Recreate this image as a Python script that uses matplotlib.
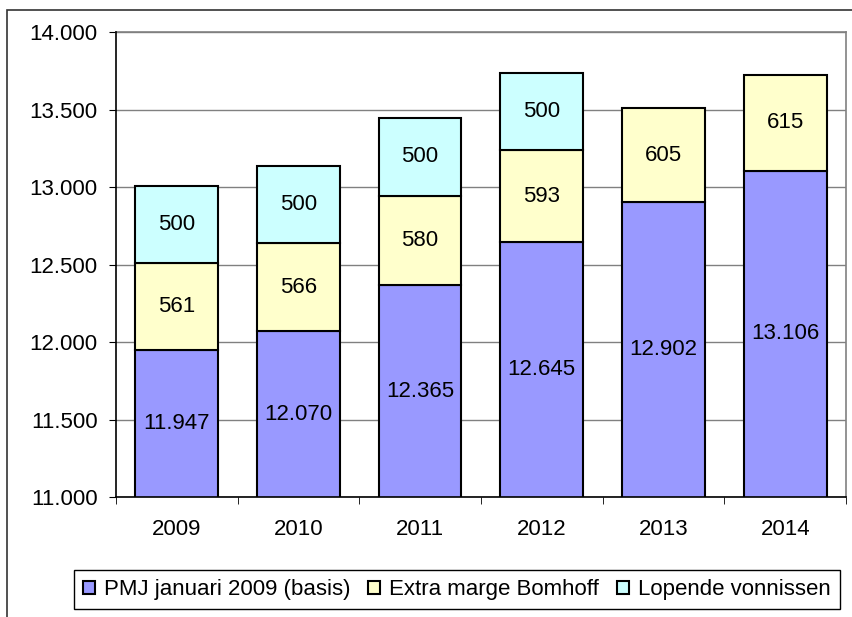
import matplotlib.pyplot as plt
from matplotlib.patches import Rectangle
from matplotlib.ticker import FuncFormatter
import numpy as np

plt.rcParams['font.family'] = ['Liberation Sans', 'DejaVu Sans']

years = ["2009", "2010", "2011", "2012", "2013", "2014"]
basis = [11947, 12070, 12365, 12645, 12902, 13106]
marge = [561, 566, 580, 593, 605, 615]
vonnissen = [500, 500, 500, 500, 0, 0]
labels = ["PMJ januari 2009 (basis)", "Extra marge Bomhoff", "Lopende vonnissen"]
colors = ["#9999FF", "#FFFFCC", "#CCFFFF"]

def nl(v, pos=None):
    return f"{int(v):,}".replace(",", ".")

fig = plt.figure(figsize=(8.52, 6.17), dpi=100)
ax = fig.add_axes([0.136, 0.1945, 0.857, 0.7535])

ymin, ymax = 11000, 14000
fs = 16
x = np.arange(len(years))
bottom = np.zeros(len(years))
for vals, lab, col in zip([basis, marge, vonnissen], labels, colors):
    vals = np.array(vals, dtype=float)
    mask = vals > 0
    ax.bar(x[mask], vals[mask], bottom=bottom[mask], width=0.68, color=col,
           edgecolor="black", linewidth=1.5, label=lab, zorder=3)
    for xi, b, v in zip(x, bottom, vals):
        if v <= 0:
            continue
        lo = max(b, ymin)
        ax.text(xi, (lo + b + v) / 2, nl(v), ha="center", va="center",
                fontsize=fs, zorder=4)
    bottom += vals

ax.set_ylim(ymin, ymax)
ax.set_xlim(-0.5, len(years) - 0.5)
ax.set_yticks(np.arange(ymin, ymax + 1, 500))
ax.yaxis.set_major_formatter(FuncFormatter(nl))
ax.yaxis.grid(True, color="#808080", linewidth=1, zorder=0)
ax.set_xticks(x)
ax.set_xticklabels(years)
ax.set_xticks(np.arange(-0.5, len(years)), minor=True)
ax.tick_params(axis="x", which="major", length=0, pad=16, labelsize=fs)
ax.tick_params(axis="x", which="minor", length=5, direction="out", color="black")
ax.tick_params(axis="y", length=5, direction="out", labelsize=fs, pad=8)
for s in ["left", "bottom"]:
    ax.spines[s].set_color("black")
    ax.spines[s].set_linewidth(1.2)
    ax.spines[s].set_zorder(5)
for s in ["top", "right"]:
    ax.spines[s].set_color("#808080")
    ax.spines[s].set_linewidth(1.2)

fig.legend(loc="center", bbox_to_anchor=(0.536, 0.044), ncol=3, fontsize=fs,
           frameon=True, fancybox=False, edgecolor="black", framealpha=1,
           handlelength=0.55, handleheight=0.55, handletextpad=0.4,
           columnspacing=0.8, borderpad=0.4, borderaxespad=0)

fig.add_artist(Rectangle((7 / 852, -0.1), 1.2, 1 - 10 / 617 + 0.1,
                         transform=fig.transFigure, fill=False,
                         edgecolor="#333333", linewidth=1.2))

fig.savefig("out.png", dpi=100)
